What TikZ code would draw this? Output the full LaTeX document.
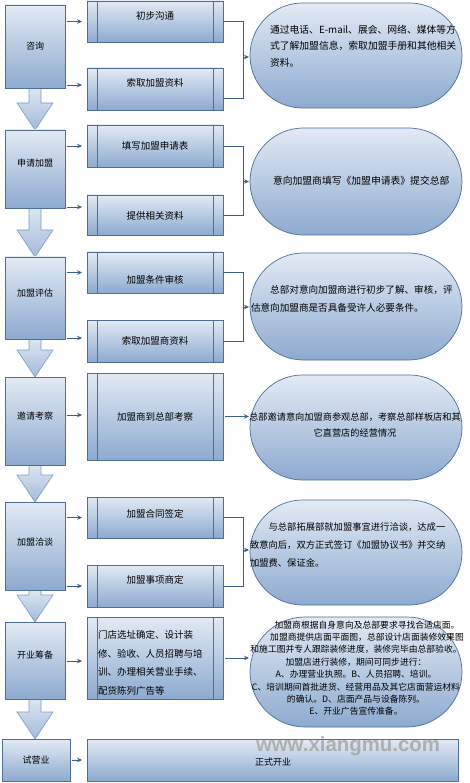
\documentclass[tikz,border=0pt]{standalone}
\usepackage{fontspec}
\newfontfamily\cjk{Noto Sans CJK SC}
\newfontfamily\wmfont{Liberation Sans}
\usetikzlibrary{arrows.meta,calc,shapes.misc}
\newcommand\myup[2]{\raisebox{#1pt}[\height][\depth]{#2}}
\definecolor{edgec}{HTML}{4F6F99}
\definecolor{topc}{HTML}{E2EAF4}
\definecolor{botc}{HTML}{8DAAD0}
\definecolor{arrc}{HTML}{3E5F8A}
\definecolor{btop}{HTML}{DCE6F2}
\definecolor{bbot}{HTML}{A3BADA}
\definecolor{bedge}{HTML}{7F9CC4}
\newcommand\blockdown[2]{%
  \coordinate (hd#1) at ($(#1.south |- #2.north)+(0,-27)$);
  \path[barrow] ($(#1.south)+(-6,0)$) -- ($(hd#1)+(-6,0)$) -- ($(hd#1)+(-18,0)$) -- (#1.south |- #2.north) -- ($(hd#1)+(18,0)$) -- ($(hd#1)+(6,0)$) -- ($(#1.south)+(6,0)$) -- cycle;}
\begin{document}
\begin{tikzpicture}[x=1pt,y=-1pt,
  every node/.style={inner sep=0pt,outer sep=0pt},
  stepbox/.style={draw=edgec,line width=0.7pt,top color=topc,bottom color=botc,font=\cjk\fontsize{9}{11}\selectfont},
  procbox/.style={draw=edgec,line width=0.7pt,top color=topc,bottom color=botc,font=\cjk\fontsize{9.5}{12}\selectfont,
    path picture={\draw[edgec,line width=0.7pt]
      ([xshift=10pt]path picture bounding box.north west) -- ([xshift=10pt]path picture bounding box.south west)
      ([xshift=-10pt]path picture bounding box.north east) -- ([xshift=-10pt]path picture bounding box.south east);}},
  plainbox/.style={draw=edgec,line width=0.7pt,top color=topc,bottom color=botc},
  infobox/.style={rounded rectangle,draw=edgec,line width=0.7pt,top color=topc,bottom color=botc,minimum width=212},
  txt/.style={align=left},
  conn/.style={draw=arrc,line width=0.7pt,-{Stealth[length=5pt,width=4.5pt]}},
  lconn/.style={conn,shorten <=2pt,shorten >=5pt},
  link/.style={draw=arrc,line width=0.7pt},
  barrow/.style={draw=bedge,line width=0.6pt,top color=btop,bottom color=bbot,line join=miter},
]
\path[use as bounding box,fill=white] (0,0) rectangle (470,783);

% down block arrows (drawn first, boxes cover their bases)
\coordinate (c1) at (35,46.5);
\node[stepbox,minimum width=60,minimum height=83] (s1) at (35,46.5) {咨询};
\node[stepbox,minimum width=60,minimum height=78] (s2) at (35,169) {\myup{6}{申请加盟}};
\node[stepbox,minimum width=60,minimum height=82] (s3) at (35,298) {\myup{5}{加盟评估}};
\node[stepbox,minimum width=60,minimum height=88] (s4) at (35,421) {\myup{5}{邀请考察}};
\node[stepbox,minimum width=60,minimum height=88] (s5) at (35,546) {\myup{4}{加盟洽谈}};
\node[stepbox,minimum width=60,minimum height=77] (s6) at (35,660.5) {\myup{5}{开业筹备}};
\node[stepbox,minimum width=68,minimum height=42] (s7) at (36,760) {试营业};

\blockdown{s1}{s2}
\blockdown{s2}{s3}
\blockdown{s3}{s4}
\blockdown{s4}{s5}
\blockdown{s5}{s6}
\blockdown{s6}{s7}
% step boxes again on top of the arrow bases
\node[stepbox,minimum width=60,minimum height=83] at (s1) {咨询};
\node[stepbox,minimum width=60,minimum height=78] at (s2) {\myup{6}{申请加盟}};
\node[stepbox,minimum width=60,minimum height=82] at (s3) {\myup{5}{加盟评估}};
\node[stepbox,minimum width=60,minimum height=88] at (s4) {\myup{5}{邀请考察}};
\node[stepbox,minimum width=60,minimum height=88] at (s5) {\myup{4}{加盟洽谈}};
\node[stepbox,minimum width=60,minimum height=77] at (s6) {\myup{5}{开业筹备}};
\node[stepbox,minimum width=68,minimum height=42] at (s7) {试营业};

% middle process boxes
\node[procbox,minimum width=136,minimum height=41] (m1a) at (155,21.5) {\myup{6}{初步沟通}};
\node[procbox,minimum width=136,minimum height=42] (m1b) at (155,89) {\myup{6}{索取加盟资料}};
\node[procbox,minimum width=136,minimum height=42] (m2a) at (155,146) {填写加盟申请表};
\node[procbox,minimum width=136,minimum height=40] (m2b) at (155,215) {\myup{-1}{提供相关资料}};
\node[procbox,minimum width=136,minimum height=41] (m3a) at (155,272.5) {\myup{-7}{加盟条件审核}};
\node[procbox,minimum width=136,minimum height=42] (m3b) at (155,341) {索取加盟商资料};
\node[procbox,minimum width=136,minimum height=87] (m4) at (155,416.5) {加盟商到总部考察};
\node[procbox,minimum width=136,minimum height=41] (m5a) at (155,517.5) {\myup{4}{加盟合同签定}};
\node[procbox,minimum width=136,minimum height=42] (m5b) at (155,586) {\myup{6}{加盟事项商定}};
\node[procbox,minimum width=136,minimum height=82] (m6) at (155,658) {};
\node[plainbox,minimum width=371,minimum height=42] (m7) at (272.5,760) {};

% (base anchor of a multi-line node = baseline of its last line)
\node[txt,anchor=base west,font=\cjk\fontsize{9.5}{18.7}\selectfont] (t6) at (98,694.6)
  {门店选址确定、设计装\\修、验收、人员招聘与培\\训、办理相关营业手续、\\配货陈列广告等};

% right info shapes
\node[infobox,minimum height=105] (e1) at (356,55.5) {};
\node[infobox,minimum height=107] (e2) at (356,181.5) {};
\node[infobox,minimum height=107] (e3) at (356,306.5) {};
\node[infobox,minimum height=105] (e4) at (356,427.5) {};
\node[infobox,minimum height=105] (e5) at (356,552.5) {};
\node[infobox,minimum height=110] (e6) at (356,672) {};

\node[txt,anchor=base west,font=\cjk\fontsize{9.8}{16.5}\selectfont] (te1) at (270,66.5)
  {通过电话、E-mail、展会、网络、媒体等方\\式了解加盟信息，索取加盟手册和其他相关\\资料。};
\node[anchor=base west,font=\cjk\fontsize{9.8}{17}\selectfont] (te2) at (273,184.5)
  {意向加盟商填写《加盟申请表》提交总部};
\node[txt,anchor=base west,font=\cjk\fontsize{9.6}{18}\selectfont] (te3) at (251,311.5)
  {\hspace*{2em}总部对意向加盟商进行初步了解、审核，评\\估意向加盟商是否具备受许人必要条件。};
\node[align=center,anchor=base,font=\cjk\fontsize{9.2}{16}\selectfont] (te4) at (355,436.5)
  {总部邀请意向加盟商参观总部，考察总部样板店和其\\它直营店的经营情况};
\node[txt,anchor=base west,font=\cjk\fontsize{9.3}{18}\selectfont] (te5) at (250,566.5)
  {\hspace*{2em}与总部拓展部就加盟事宜进行洽谈，达成一\\致意向后，双方正式签订《加盟协议书》并交纳\\加盟费、保证金。};
\node[align=center,anchor=base,font=\cjk\fontsize{8.8}{12.4}\selectfont] (te6) at (356,714.8)
  {\hspace*{22pt}加盟商根据自身意向及总部要求寻找合适店面。\\
   \hspace*{22pt}加盟商提供店面平面图，总部设计店面装修效果图\\
   和施工图并专人跟踪装修进度，装修完毕由总部验收。\\
   加盟店进行装修，期间可同步进行：\\
   A、办理营业执照。B、人员招聘、培训。\\
   C、培训期间首批进货、经营用品及其它店面营运材料\\
   的确认。D、店面产品与设备陈列。\\
   E、开业广告宣传准备。};

% last row text and watermark
\node[font=\wmfont\bfseries\fontsize{20.4}{22}\selectfont,text=gray!70,opacity=0.85] (wm) at (348,746) {www.xiangmu.com};
\node[anchor=base west,font=\cjk\fontsize{9}{11}\selectfont] (t7) at (255,765) {正式开业};

% left -> middle arrows
\draw[lconn] (s1.east |- m1a.west) -- (m1a.west);
\draw[lconn] (s1.east |- 0,85) -- (m1b.west |- 0,85);
\draw[lconn] (s2.east |- m2a.west) -- (m2a.west);
\draw[lconn] (s2.east |- 0,207) -- (m2b.west |- 0,207);
\draw[lconn] (s3.east |- m3a.west) -- (m3a.west);
\draw[lconn] (s3.east |- 0,338) -- (m3b.west |- 0,338);
\draw[lconn] (s4.east |- 0,415) -- (m4.west |- 0,415);
\draw[lconn] (s5.east |- m5a.west) -- (m5a.west);
\draw[lconn] (s5.east |- m5b.west) -- (m5b.west);
\draw[lconn] (s6.east |- 0,661) -- (m6.west |- 0,661);
\draw[lconn] (s7.east) -- (m7.west);

% middle -> info connectors
\coordinate (j1) at (243,57);
\coordinate (j2) at (243,181.5);
\coordinate (j3) at (243,307);
\coordinate (j5) at (243,550);
\draw[link] (m1a.east) -| (j1);
\draw[link] (m1b.east |- 0,98) -| (j1);
\draw[conn,shorten >=1pt] (j1) -- (j1 -| e1.west);
\draw[link] (m2a.east) -| (j2);
\draw[link] (m2b.east) -| (j2);
\draw[conn,shorten >=1pt] (j2) -- (j2 -| e2.west);
\draw[link] (m3a.east) -| (j3);
\draw[link] (m3b.east) -| (j3);
\draw[conn,shorten >=1pt] (j3) -- (j3 -| e3.west);
\draw[conn,shorten <=2pt,shorten >=1pt] (m4.east) -- (m4.east -| e4.west);
\draw[link] (m5a.east) -| (j5);
\draw[link] (m5b.east) -| (j5);
\draw[conn,shorten >=1pt] (j5) -- (j5 -| e5.west);
\draw[conn,shorten <=2pt,shorten >=1pt] (m6.east) -- (m6.east -| e6.west);
\end{tikzpicture}
\end{document}
